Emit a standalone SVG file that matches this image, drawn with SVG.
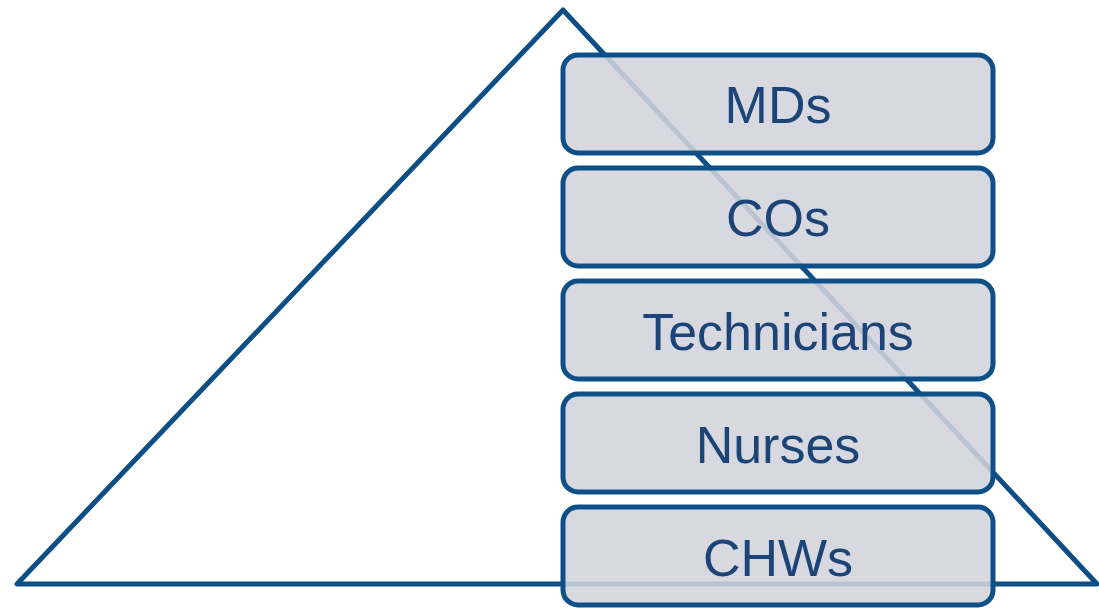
<svg xmlns="http://www.w3.org/2000/svg" width="1099" height="608" viewBox="0 0 1099 608">
  <style>
    .tri { fill: none; stroke: #0d4f85; stroke-width: 5; stroke-linejoin: round; }
    .box rect { fill: #d3d4dc; fill-opacity: 0.88; stroke: #0d5088; stroke-width: 5; }
    .box text { font-family: "Liberation Sans", Arial, sans-serif; font-size: 52px; fill: #1c4476; text-anchor: middle; }
  </style>
  <rect width="1099" height="608" fill="#ffffff"/>
  <g id="connectors">
    <polygon class="tri" points="563,10 17,584 1097,584"/>
  </g>
  <g id="mds" class="box">
    <rect x="563" y="55" width="430" height="98" rx="15" ry="15"/>
    <text x="778" y="123">MDs</text>
  </g>
  <g id="cos" class="box">
    <rect x="563" y="168" width="430" height="98" rx="15" ry="15"/>
    <text x="778" y="236">COs</text>
  </g>
  <g id="technicians" class="box">
    <rect x="563" y="281" width="430" height="98" rx="15" ry="15"/>
    <text x="778" y="350">Technicians</text>
  </g>
  <g id="nurses" class="box">
    <rect x="563" y="394" width="430" height="98" rx="15" ry="15"/>
    <text x="778" y="463">Nurses</text>
  </g>
  <g id="chws" class="box">
    <rect x="563" y="507" width="430" height="98" rx="15" ry="15"/>
    <text x="778" y="576">CHWs</text>
  </g>
</svg>
